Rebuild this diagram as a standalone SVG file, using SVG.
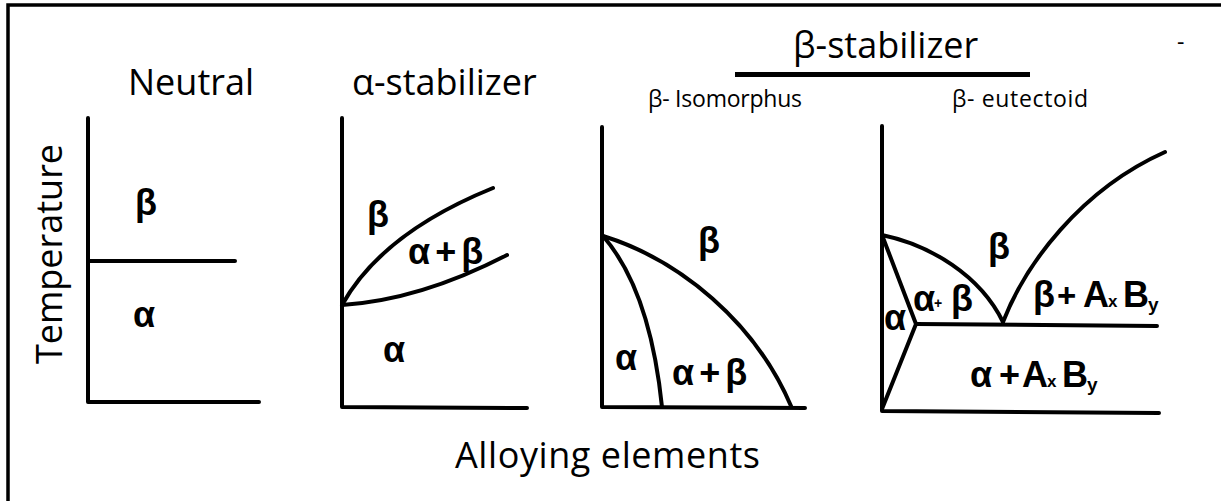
<svg xmlns="http://www.w3.org/2000/svg" width="1221" height="501" viewBox="0 0 1221 501">
<style>
.ln{fill:none;stroke:#000;stroke-width:4;stroke-linecap:round;stroke-linejoin:round}
.ttl{font-family:"Open Sans","Liberation Sans",sans-serif;font-size:36px;fill:#000}
.sub{font-family:"Open Sans","Liberation Sans",sans-serif;font-size:23px;fill:#000}
.ph{font-family:"Liberation Sans",Arial,sans-serif;font-weight:bold;font-size:36px;fill:#000}
.sp{letter-spacing:5px}
</style>
<rect width="1221" height="501" fill="#fff"/>
<g id="frame">
<path d="M8,501 V5 H1221" fill="none" stroke="#000" stroke-width="3.5"/>
</g>
<g id="titles">
<text class="ttl" x="128" y="95">Neutral</text>
<text class="ttl" x="352" y="95">α-stabilizer</text>
<text class="ttl" x="793" y="58">β-stabilizer</text>
<line x1="735" y1="74.5" x2="1030" y2="74.5" stroke="#000" stroke-width="5"/>
<text class="sub" x="648" y="107" textLength="154">β- Isomorphus</text>
<text class="sub" x="952" y="107" textLength="136">β- eutectoid</text>
<text class="sub" x="1177" y="50" font-size="18">-</text>
<text class="ttl" x="455" y="468" textLength="305">Alloying elements</text>
<text class="ttl" transform="translate(62,254) rotate(-90)" text-anchor="middle">Temperature</text>
</g>
<g id="neutral">
<path class="ln" d="M88,118 V402 H259"/>
<path class="ln" d="M88,261 H235"/>
<text class="ph" x="135" y="215">β</text>
<text class="ph" x="133" y="327">α</text>
</g>
<g id="alpha-stabilizer">
<path class="ln" d="M342,118 V407 L527,408"/>
<path class="ln" d="M342,305 Q382,233 493,188"/>
<path class="ln" d="M342,305 Q420,300 507,255"/>
<text class="ph" x="367" y="227">β</text>
<text class="ph sp" x="408" y="264">α+β</text>
<text class="ph" x="383" y="362">α</text>
</g>
<g id="beta-isomorphous">
<path class="ln" d="M602,127 V407 L805,408"/>
<path class="ln" d="M603,236 C680,260 755,322 791,406"/>
<path class="ln" d="M603,236 Q650,290 662,407"/>
<text class="ph" x="698" y="253">β</text>
<text class="ph" x="615" y="370">α</text>
<text class="ph sp" x="672" y="385">α+β</text>
</g>
<g id="beta-eutectoid">
<path class="ln" d="M882,126 V411 L1159,413"/>
<path class="ln" d="M882,235 C930,245 980,275 1003,322"/>
<path class="ln" d="M1003,322 C1025,265 1080,190 1165,152"/>
<path class="ln" d="M882,235 L916,324 L882,409"/>
<path class="ln" d="M916,324 L1157,326"/>
<text class="ph" x="988" y="259" font-size="33">β</text>
<text class="ph" font-size="27" y="311"><tspan x="913">α</tspan><tspan x="934" font-size="14" dy="-3">+</tspan><tspan x="951" dy="3">β</tspan></text>
<text class="ph" x="884" y="330" font-size="37">α</text>
<text class="ph" font-size="31" y="307"><tspan x="1033">β</tspan><tspan x="1057" font-size="33">+</tspan><tspan x="1083">A</tspan><tspan x="1108" font-size="17">x</tspan><tspan x="1123">B</tspan><tspan x="1148" font-size="19" dy="4">y</tspan></text>
<text class="ph" font-size="33" y="387"><tspan x="970">α</tspan><tspan x="999">+</tspan><tspan x="1022">A</tspan><tspan x="1047" font-size="17">x</tspan><tspan x="1062">B</tspan><tspan x="1087" font-size="19" dy="4">y</tspan></text>
</g>
</svg>
